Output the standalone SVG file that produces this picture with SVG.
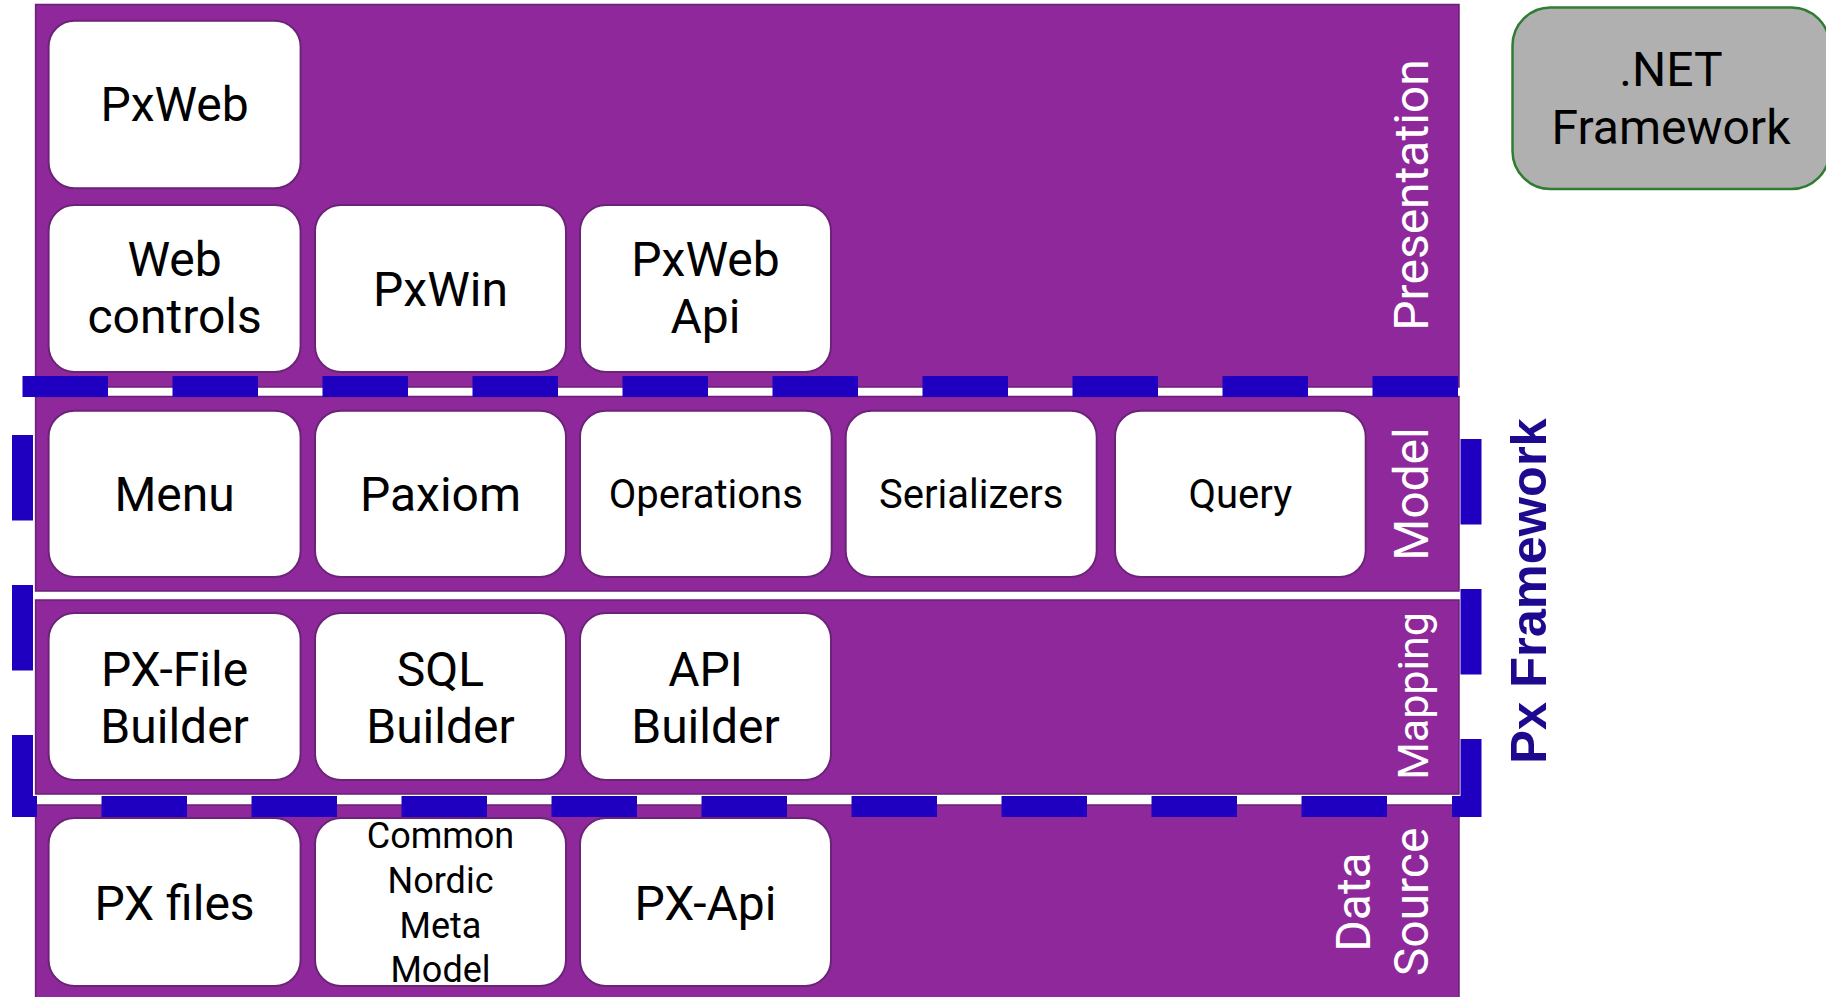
<svg xmlns="http://www.w3.org/2000/svg" width="1826" height="997" viewBox="0 0 1826 997">
  <style>
    .panel { fill: #8e289b; stroke: #6a1f78; stroke-width: 1.5; }
    .node rect { fill: #ffffff; stroke: #6b2378; stroke-width: 2; }
    .node text { font-family: Roboto, "Liberation Sans", sans-serif; fill: #000000; text-anchor: middle; }
    .big { font-size: 48px; }
    .mid { font-size: 40px; }
    .small { font-size: 36px; }
    .label { font-family: Roboto, "Liberation Sans", sans-serif; font-size: 48px; fill: #ffffff; text-anchor: middle; }
    .dash { stroke: #2000c0; stroke-width: 21; fill: none; stroke-dasharray: 85.5 64.5; }
    .corner { stroke: #2000c0; stroke-width: 21; fill: none; stroke-linejoin: miter; }
    .title { font-family: "Liberation Sans", Arial, sans-serif; font-weight: bold; font-size: 50.5px; fill: #1d0a8e; text-anchor: middle; }
    .net rect { fill: #b0b0b0; stroke: #2e7d32; stroke-width: 2.5; }
  </style>

  <g id="layers">
    <rect id="layer-presentation" class="panel" x="35.6" y="4.5" width="1423.4" height="382.5"/>
    <rect id="layer-model" class="panel" x="35.6" y="396.5" width="1423.4" height="194.5"/>
    <rect id="layer-mapping" class="panel" x="35.6" y="600" width="1423.4" height="194"/>
    <rect id="layer-datasource" class="panel" x="35.6" y="805" width="1423.4" height="200"/>
  </g>

  <g id="layer-labels">
    <text class="label" transform="translate(1428,195) rotate(-90)">Presentation</text>
    <text class="label" transform="translate(1428,494) rotate(-90)">Model</text>
    <text class="label" style="font-size:43px" transform="translate(1428,696) rotate(-90)">Mapping</text>
    <text class="label" transform="translate(1428,902) rotate(-90)"><tspan x="0" y="-58">Data</tspan><tspan x="0" y="0">Source</tspan></text>
  </g>

  <!-- Presentation -->
  <g id="node-pxweb" class="node">
    <rect x="48.6" y="20.7" width="252" height="167.6" rx="26"/>
    <text class="big" x="174.6" y="121">PxWeb</text>
  </g>
  <g id="node-webcontrols" class="node">
    <rect x="48.6" y="205" width="252" height="167" rx="26"/>
    <text class="big" x="174.6" y="276">Web</text>
    <text class="big" x="174.6" y="333">controls</text>
  </g>
  <g id="node-pxwin" class="node">
    <rect x="315" y="205" width="251" height="167" rx="26"/>
    <text class="big" x="440.5" y="305.5">PxWin</text>
  </g>
  <g id="node-pxwebapi" class="node">
    <rect x="580" y="205" width="251" height="167" rx="26"/>
    <text class="big" x="705.5" y="276">PxWeb</text>
    <text class="big" x="705.5" y="333">Api</text>
  </g>

  <!-- Model -->
  <g id="node-menu" class="node">
    <rect x="48.6" y="410.7" width="252" height="166.3" rx="26"/>
    <text class="big" x="174.6" y="510.5">Menu</text>
  </g>
  <g id="node-paxiom" class="node">
    <rect x="315" y="410.7" width="251" height="166.3" rx="26"/>
    <text class="big" x="440.5" y="510.5">Paxiom</text>
  </g>
  <g id="node-operations" class="node">
    <rect x="580" y="410.7" width="251.7" height="166.3" rx="26"/>
    <text class="mid" x="705.8" y="508">Operations</text>
  </g>
  <g id="node-serializers" class="node">
    <rect x="845.7" y="410.7" width="251" height="166.3" rx="26"/>
    <text class="mid" x="971.2" y="508">Serializers</text>
  </g>
  <g id="node-query" class="node">
    <rect x="1115" y="410.7" width="250.7" height="166.3" rx="26"/>
    <text class="mid" x="1240.3" y="508">Query</text>
  </g>

  <!-- Mapping -->
  <g id="node-pxfilebuilder" class="node">
    <rect x="48.6" y="613" width="252" height="167" rx="26"/>
    <text class="big" x="174.6" y="686">PX-File</text>
    <text class="big" x="174.6" y="743">Builder</text>
  </g>
  <g id="node-sqlbuilder" class="node">
    <rect x="315" y="613" width="251" height="167" rx="26"/>
    <text class="big" x="440.5" y="686">SQL</text>
    <text class="big" x="440.5" y="743">Builder</text>
  </g>
  <g id="node-apibuilder" class="node">
    <rect x="580" y="613" width="251" height="167" rx="26"/>
    <text class="big" x="705.5" y="686">API</text>
    <text class="big" x="705.5" y="743">Builder</text>
  </g>

  <!-- Data Source -->
  <g id="node-pxfiles" class="node">
    <rect x="48.6" y="818" width="252" height="168" rx="26"/>
    <text class="big" x="174.6" y="920">PX files</text>
  </g>
  <g id="node-cnmm" class="node">
    <rect x="315" y="818" width="251" height="168" rx="26"/>
    <text class="small" x="440.5" y="848.3">Common</text>
    <text class="small" x="440.5" y="892.8">Nordic</text>
    <text class="small" x="440.5" y="937.5">Meta</text>
    <text class="small" x="440.5" y="982.2">Model</text>
  </g>
  <g id="node-pxapi" class="node">
    <rect x="580" y="818" width="251" height="168" rx="26"/>
    <text class="big" x="705.5" y="920">PX-Api</text>
  </g>

  <!-- .NET Framework -->
  <g id="node-dotnet" class="node net">
    <rect x="1512.5" y="7.5" width="317" height="181.5" rx="38"/>
    <text class="big" x="1671" y="86">.NET</text>
    <text class="big" x="1671" y="144">Framework</text>
  </g>

  <!-- Px Framework dashed boundary -->
  <g id="px-framework">
    <line class="dash" x1="22.5" y1="386.5" x2="1458" y2="386.5"/>
    <line class="dash" x1="101.5" y1="806.5" x2="1387" y2="806.5"/>
    <line class="dash" x1="22.5" y1="435" x2="22.5" y2="671"/>
    <line class="dash" x1="1471" y1="439" x2="1471" y2="675"/>
    <path class="corner" d="M22.5 735 V806.5 H37"/>
    <path class="corner" d="M1471 739 V806.5 H1452"/>
    <text class="title" transform="translate(1546,591) rotate(-90)">Px Framework</text>
  </g>
</svg>
